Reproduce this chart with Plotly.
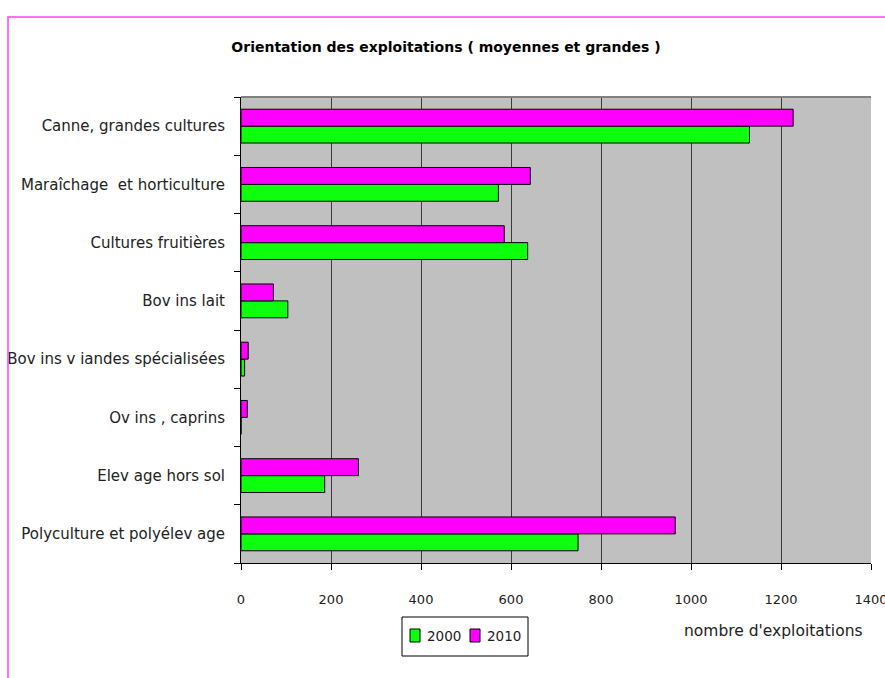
import plotly.graph_objects as go

categories = [
    "Canne, grandes cultures",
    "Maraîchage  et horticulture",
    "Cultures fruitières",
    "Bov ins lait",
    "Bov ins v iandes spécialisées",
    "Ov ins , caprins",
    "Elev age hors sol",
    "Polyculture et polyélev age",
]
values_2000 = [1130, 572, 637, 104, 8, 0, 186, 749]
values_2010 = [1227, 643, 585, 72, 16, 14, 261, 965]
x_ticks = [0, 200, 400, 600, 800, 1000, 1200, 1400]
series_names = ["2000", "2010"]
series_colors = ["#0DFF0D", "#FF00FF"]

FONT = "DejaVu Sans"

# plot area in pixels (for placing non-data decorations)
PL, PR, PT, PB = 241, 871, 97, 563


def px_x(px):
    return (px - PL) / (PR - PL)


def px_y(py):
    return 1 - (py - PT) / (PB - PT)


fig = go.Figure()
for name, vals, col in zip(series_names, [values_2000, values_2010], series_colors):
    fig.add_trace(go.Bar(
        y=categories, x=vals, name=name, orientation="h",
        marker=dict(color=col, line=dict(color="black", width=1)),
        showlegend=False,
    ))

fig.update_layout(
    width=885, height=678,
    margin=dict(l=PL, r=885 - PR, t=PT, b=678 - PB, autoexpand=False),
    paper_bgcolor="white",
    plot_bgcolor="#C0C0C0",
    barmode="group",
    bargap=0.42,
    bargroupgap=0,
    font=dict(family=FONT, size=14, color="#222222"),
    title=dict(
        text="<b>Orientation des exploitations ( moyennes et grandes )</b>",
        x=(446) / 885, xref="container", xanchor="center",
        y=1 - 47 / 678, yref="container", yanchor="middle",
        font=dict(family=FONT, size=14, color="black"),
    ),
    xaxis=dict(
        range=[0, 1400], tickvals=x_ticks,
        showgrid=True, gridcolor="#3a3a3a", gridwidth=1,
        zeroline=False,
        ticks="outside", ticklen=6, tickcolor="black",
        ticklabelstandoff=18,
        ticklabeloverflow="allow",
        automargin=False,
        showline=True, linecolor="black", linewidth=1,
        tickfont=dict(family=FONT, size=13),
        fixedrange=True,
    ),
    yaxis=dict(
        categoryorder="array", categoryarray=list(reversed(categories)),
        showgrid=False, zeroline=False,
        ticks="outside", ticklen=6, tickcolor="black",
        showline=True, linecolor="black", linewidth=1,
        ticklabelstandoff=12,
        tickson="boundaries",
        automargin=False,
        tickfont=dict(family=FONT, size=15),
        fixedrange=True,
    ),
    showlegend=False,
)

fig.add_annotation(
    text="nombre d'exploitations",
    xref="paper", yref="paper",
    x=px_x(773), y=px_y(631),
    xanchor="center", yanchor="middle",
    showarrow=False, font=dict(family=FONT, size=15.5),
)

# manual legend box
fig.add_shape(type="rect", xref="paper", yref="paper",
              x0=px_x(402), x1=px_x(528), y0=px_y(656), y1=px_y(617),
              line=dict(color="black", width=1), fillcolor="white")
for (sx, tx), name, col in zip([(410, 425), (470, 485)], series_names, series_colors):
    fig.add_shape(type="rect", xref="paper", yref="paper",
                  x0=px_x(sx), x1=px_x(sx + 10), y0=px_y(642), y1=px_y(629),
                  line=dict(color="black", width=1), fillcolor=col)
    fig.add_annotation(text=name, xref="paper", yref="paper",
                       x=px_x(tx), y=px_y(636), xanchor="left", yanchor="middle",
                       showarrow=False, font=dict(family=FONT, size=13.5))

# top edge of plot area (gray)
fig.add_shape(type="line", xref="paper", yref="paper",
              x0=0, x1=1, y0=1, y1=1, line=dict(color="#808080", width=2))
# magenta outer frame
fig.add_shape(type="rect", xref="paper", yref="paper",
              x0=px_x(8), x1=1.2,
              y0=-0.5, y1=px_y(17),
              line=dict(color="#FF44FF", width=1.5))

fig.write_html("out.html", config={"displayModeBar": False},
               post_script="document.body.style.margin='0';")
